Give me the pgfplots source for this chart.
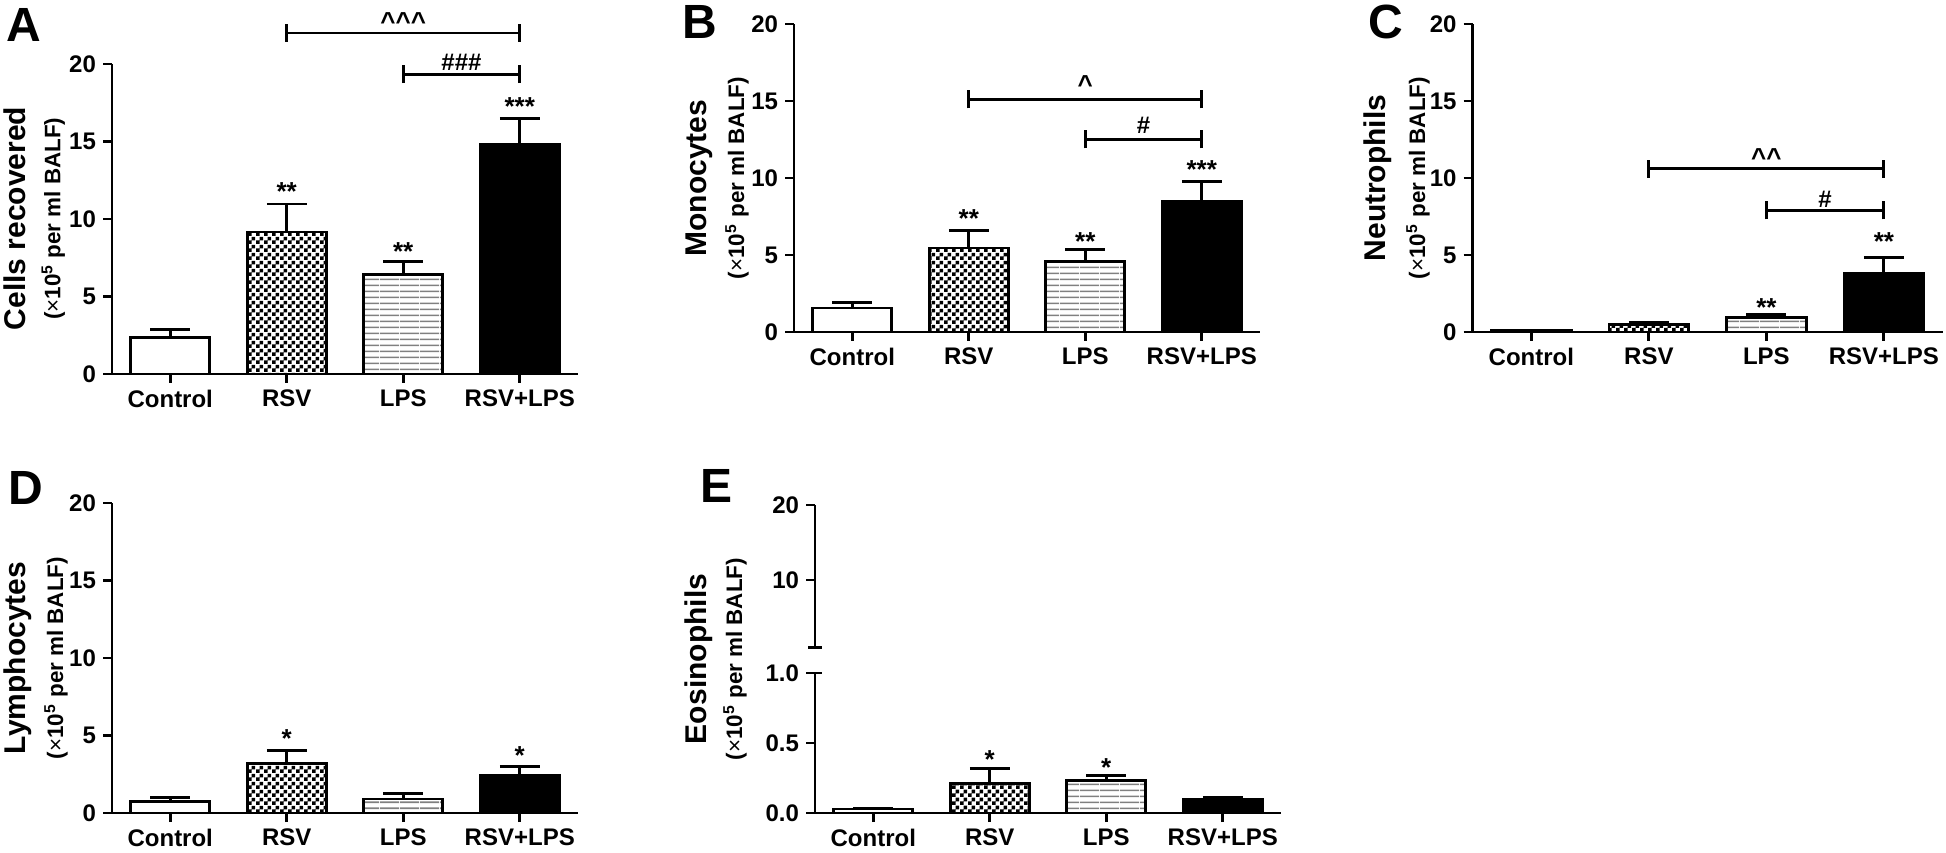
\documentclass[border=0pt]{standalone}
\usepackage{fontspec}
\setmainfont{Liberation Sans}
\usepackage{pgfplots}
\pgfplotsset{compat=1.18}
\usetikzlibrary{patterns}

\pgfdeclarepatternformonly{checks}{\pgfqpoint{0pt}{0pt}}{\pgfqpoint{4pt}{4pt}}{\pgfqpoint{4pt}{4pt}}{%
  \pgfpathrectangle{\pgfqpoint{0pt}{0pt}}{\pgfqpoint{2pt}{2pt}}%
  \pgfpathrectangle{\pgfqpoint{2pt}{2pt}}{\pgfqpoint{2pt}{2pt}}%
  \pgfusepath{fill}}
\pgfdeclarepatternformonly{hlines}{\pgfqpoint{0pt}{0pt}}{\pgfqpoint{10pt}{3pt}}{\pgfqpoint{10pt}{3pt}}{%
  \pgfsetlinewidth{0.9pt}%
  \pgfpathmoveto{\pgfqpoint{0pt}{1.5pt}}\pgfpathlineto{\pgfqpoint{10pt}{1.5pt}}%
  \pgfusepath{stroke}}

\pgfplotsset{
  panel/.style={
    scale only axis, width=233pt, height=155pt,
    axis x line*=bottom, axis y line*=left,
    axis line style={line width=1.4pt, -},
    xmin=-0.5, xmax=3.5, ymin=0, ymax=20,
    xtick={0,1,2,3}, xticklabels={Control,RSV,LPS,RSV+LPS},
    ytick={0,5,10,15,20},
    tick align=outside, major tick length=4.5pt,
    tick style={line width=1.4pt, black},
    xticklabel style={font=\bfseries\fontsize{12}{13}\selectfont},
    yticklabel style={font=\bfseries\fontsize{12}{13}\selectfont},
    /pgf/number format/assume math mode=true,
    clip=false,
  },
  bar/.style={ybar, bar shift=0pt, bar width=0.68, line width=1.4pt, draw=black,
    /pgfplots/error bars/y dir=plus, /pgfplots/error bars/y explicit,
    /pgfplots/error bars/error bar style={line width=1.4pt, black, solid},
    /pgfplots/error bars/error mark options={rotate=90, mark size=10pt, line width=1.4pt, black}},
  ctrl/.style={fill=white},
  rsv/.style={pattern=checks, pattern color=black},
  lps/.style={pattern=hlines, pattern color=black!50},
  combo/.style={fill=black},
}
\tikzset{
  stars/.style={font=\bfseries\fontsize{13}{14}\selectfont, yshift=-2.5pt, inner sep=0pt},
  caret/.style={font=\bfseries\fontsize{13}{14}\selectfont, yshift=-2pt, inner sep=0pt},
  hash/.style={font=\bfseries\fontsize{12}{13}\selectfont, inner sep=0pt},
  brk/.style={line width=1.4pt},
  tk/.style={line width=1.4pt},
  ylab/.style={rotate=90, font=\bfseries\fontsize{15}{16}\selectfont, inner sep=0pt},
  ysub/.style={rotate=90, font=\bfseries\fontsize{11.2}{12}\selectfont, inner sep=0pt},
  letter/.style={font=\bfseries\fontsize{24}{26}\selectfont, inner sep=0pt},
}
\newcommand{\unitlab}{(\mdseries\texttimes\bfseries 10\textsuperscript{5} per ml BALF)}
\newcommand{\bracket}[3]{%
  \draw[brk] (axis cs:#1,#3) -- (axis cs:#2,#3);
  \draw[brk] (axis cs:#1,#3) ++(0pt,-4.5pt) -- ++(0pt,9pt);
  \draw[brk] (axis cs:#2,#3) ++(0pt,-4.5pt) -- ++(0pt,9pt);}
\newcommand{\xticks}[1]{\pgfplotsinvokeforeach{0,1,2,3}{\draw[tk] (axis cs:##1,#1) -- ++(0pt,-4.5pt);}}
\newcommand{\yticks}[1]{\pgfplotsinvokeforeach{#1}{\draw[tk] (axis cs:-0.5,##1) -- ++(-4pt,0pt);}}

\begin{document}
\begin{tikzpicture}
\useasboundingbox (0pt,0pt) rectangle (973pt,426pt);

% ---------- A ----------
\begin{axis}[panel, at={(56pt,239pt)}, anchor=south west]
\addplot[bar,ctrl]  coordinates {(0,2.35) +- (0,0.54)};
\addplot[bar,rsv]   coordinates {(1,9.16) +- (0,1.81)};
\addplot[bar,lps]   coordinates {(2,6.42) +- (0,0.85)};
\addplot[bar,combo] coordinates {(3,14.82) +- (0,1.65)};
\xticks{0}\yticks{0,5,10,15,20}
\node[stars] at (axis cs:1,12.1) {**};
\node[stars] at (axis cs:2,8.2) {**};
\node[stars] at (axis cs:3,17.6) {***};
\bracket{1}{3}{22.0}
\node[caret] at (axis cs:2,23.0) {\textasciicircum\textasciicircum\textasciicircum};
\bracket{2}{3}{19.34}
\node[hash] at (axis cs:2.5,20.1) {\#\#\#};
\end{axis}
\node[letter] at (12pt,413.5pt) {A};
\node[ylab] at (7.2pt,316.7pt) {Cells recovered};
\node[ysub] at (26.7pt,316.7pt) {\unitlab};

% ---------- B ----------
\begin{axis}[panel, at={(397pt,260pt)}, anchor=south west, height=154pt]
\addplot[bar,ctrl]  coordinates {(0,1.56) +- (0,0.36)};
\addplot[bar,rsv]   coordinates {(1,5.45) +- (0,1.14)};
\addplot[bar,lps]   coordinates {(2,4.58) +- (0,0.76)};
\addplot[bar,combo] coordinates {(3,8.48) +- (0,1.29)};
\xticks{0}\yticks{0,5,10,15,20}
\node[stars] at (axis cs:1,7.7) {**};
\node[stars] at (axis cs:2,6.2) {**};
\node[stars] at (axis cs:3,10.9) {***};
\bracket{1}{3}{15.1}
\node[caret] at (axis cs:2,16.3) {\textasciicircum};
\bracket{2}{3}{12.5}
\node[hash] at (axis cs:2.5,13.4) {\#};
\end{axis}
\node[letter] at (350pt,415pt) {B};
\node[ylab] at (349.5pt,337pt) {Monocytes};
\node[ysub] at (368.5pt,337pt) {\unitlab};

% ---------- C ----------
\begin{axis}[panel, at={(736.3pt,260pt)}, anchor=south west, height=154pt, width=235pt]
\addplot[bar,ctrl]  coordinates {(0,0.08) +- (0,0.03)};
\addplot[bar,rsv]   coordinates {(1,0.48) +- (0,0.15)};
\addplot[bar,lps]   coordinates {(2,0.95) +- (0,0.17)};
\addplot[bar,combo] coordinates {(3,3.83) +- (0,1.01)};
\xticks{0}\yticks{0,5,10,15,20}
\node[stars] at (axis cs:2,1.9) {**};
\node[stars] at (axis cs:3,6.2) {**};
\bracket{1}{3}{10.6}
\node[caret] at (axis cs:2,11.6) {\textasciicircum\textasciicircum};
\bracket{2}{3}{7.9}
\node[hash] at (axis cs:2.5,8.6) {\#};
\end{axis}
\node[letter] at (693pt,415pt) {C};
\node[ylab] at (689pt,337pt) {Neutrophils};
\node[ysub] at (709pt,337pt) {\unitlab};

% ---------- D ----------
\begin{axis}[panel, at={(56pt,19.5pt)}, anchor=south west]
\addplot[bar,ctrl]  coordinates {(0,0.73) +- (0,0.28)};
\addplot[bar,rsv]   coordinates {(1,3.17) +- (0,0.86)};
\addplot[bar,lps]   coordinates {(2,0.91) +- (0,0.36)};
\addplot[bar,combo] coordinates {(3,2.42) +- (0,0.60)};
\xticks{0}\yticks{0,5,10,15,20}
\node[stars] at (axis cs:1,5.1) {*};
\node[stars] at (axis cs:3,4.0) {*};
\end{axis}
\node[letter] at (13pt,182pt) {D};
\node[ylab] at (9pt,97pt) {Lymphocytes};
\node[ysub] at (28pt,97pt) {\unitlab};

% ---------- E (broken axis) ----------
\begin{axis}[panel, at={(407.5pt,19.5pt)}, anchor=south west, height=70pt,
  ymin=0, ymax=1, ytick={0,0.5,1}, yticklabels={0.0,0.5,1.0}]
\addplot[bar,ctrl]  coordinates {(0,0.028) +- (0,0.007)};
\addplot[bar,rsv]   coordinates {(1,0.21) +- (0,0.11)};
\addplot[bar,lps]   coordinates {(2,0.23) +- (0,0.04)};
\addplot[bar,combo] coordinates {(3,0.10) +- (0,0.015)};
\xticks{0}\yticks{0,0.5,1}
\node[stars] at (axis cs:1,0.42) {*};
\node[stars] at (axis cs:2,0.36) {*};
\draw[tk] (axis cs:-0.5,1) -- ++(3.5pt,0pt);
\end{axis}
\begin{axis}[panel, at={(407.5pt,102.25pt)}, anchor=south west, height=71.25pt,
  axis x line=none, ymin=1, ymax=20, ytick={10,20}]
\addplot[draw=none, forget plot] coordinates {(0,1)};
\yticks{10,20}
\draw[tk] (axis cs:-0.5,1) ++(-3.5pt,0pt) -- ++(7pt,0pt);
\end{axis}
\node[letter] at (358pt,183pt) {E};
\node[ylab] at (349.5pt,96.5pt) {Eosinophils};
\node[ysub] at (367.5pt,96.5pt) {\unitlab};
\end{tikzpicture}
\end{document}
